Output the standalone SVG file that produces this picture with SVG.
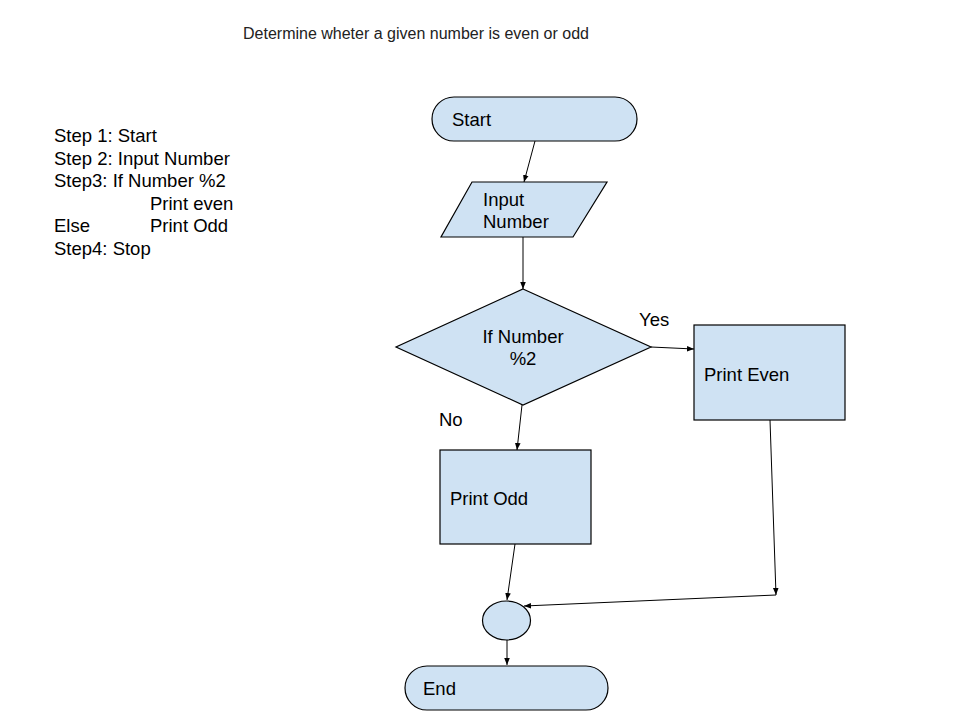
<svg xmlns="http://www.w3.org/2000/svg" width="960" height="720" viewBox="0 0 960 720">
<defs>
<style>
.shape{fill:#cfe2f3;stroke:#000;stroke-width:1.2}
.t{font-family:"Liberation Sans",Arial,sans-serif;font-size:18.5px;fill:#000}
.s{font-family:"Liberation Sans",Arial,sans-serif;font-size:18.5px;fill:#000}
.title{font-family:"Liberation Sans",Arial,sans-serif;font-size:16px;fill:#222}
.c{fill:none;stroke:#000;stroke-width:1}
</style>
<marker id="ah" viewBox="0 0 10 10" refX="10" refY="5" markerWidth="7" markerHeight="7" orient="auto" markerUnits="userSpaceOnUse">
<path d="M0,1 L10,5 L0,9 Z" fill="#000"/>
</marker>
</defs>
<rect width="960" height="720" fill="#fff"/>
<text class="title" x="243" y="39">Determine wheter a given number is even or odd</text>
<g id="steps">
<text class="s" x="54" y="142">Step 1: Start</text>
<text class="s" x="54" y="165">Step 2: Input Number</text>
<text class="s" x="54" y="187">Step3: If Number %2</text>
<text class="s" x="150" y="210">Print even</text>
<text class="s" x="54" y="232">Else</text>
<text class="s" x="150" y="232">Print Odd</text>
<text class="s" x="54" y="255">Step4: Stop</text>
</g>
<g id="connectors">
<line class="c" x1="535" y1="141" x2="524" y2="182" marker-end="url(#ah)"/>
<line class="c" x1="523" y1="237" x2="523" y2="289" marker-end="url(#ah)"/>
<line class="c" x1="651" y1="347" x2="694" y2="349" marker-end="url(#ah)"/>
<line class="c" x1="522" y1="405" x2="517" y2="450" marker-end="url(#ah)"/>
<line class="c" x1="515" y1="544" x2="507" y2="600" marker-end="url(#ah)"/>
<line class="c" x1="770" y1="420" x2="776" y2="595" marker-end="url(#ah)"/>
<line class="c" x1="776" y1="595" x2="524" y2="606" marker-end="url(#ah)"/>
<line class="c" x1="507" y1="640" x2="507" y2="665" marker-end="url(#ah)"/>
<text class="t" x="639" y="326">Yes</text>
<text class="t" x="439" y="426">No</text>
</g>
<g id="start">
<rect class="shape" x="432" y="97" width="205" height="44" rx="22" ry="22"/>
<text class="t" x="452" y="126">Start</text>
</g>
<g id="input">
<polygon class="shape" points="472,182 607,182 573,237 441,237"/>
<text class="t" x="483" y="206">Input</text>
<text class="t" x="483" y="228">Number</text>
</g>
<g id="decision">
<polygon class="shape" points="523,289 651,347 523,405 396,347"/>
<text class="t" x="523" y="343" text-anchor="middle">If Number</text>
<text class="t" x="523" y="365" text-anchor="middle">%2</text>
</g>
<g id="printEven">
<rect class="shape" x="694" y="325" width="151" height="95"/>
<text class="t" x="704" y="381">Print Even</text>
</g>
<g id="printOdd">
<rect class="shape" x="440" y="450" width="151" height="94"/>
<text class="t" x="450" y="505">Print Odd</text>
</g>
<g id="join">
<ellipse class="shape" cx="506.5" cy="620.5" rx="24" ry="19.5"/>
</g>
<g id="end">
<rect class="shape" x="405" y="666" width="203" height="44" rx="22" ry="22"/>
<text class="t" x="423" y="695">End</text>
</g>
</svg>
